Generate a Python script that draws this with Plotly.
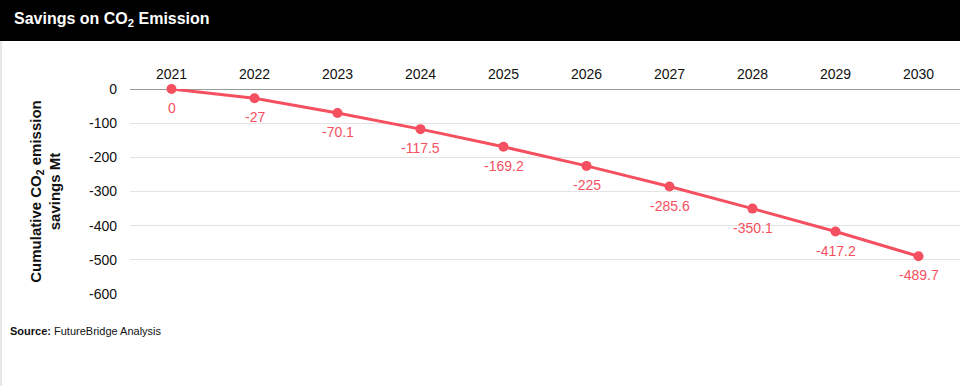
import plotly.graph_objects as go

years = ["2021", "2022", "2023", "2024", "2025", "2026", "2027", "2028", "2029", "2030"]
savings = [0, -27, -70.1, -117.5, -169.2, -225, -285.6, -350.1, -417.2, -489.7]
labels = ["0", "-27", "-70.1", "-117.5", "-169.2", "-225", "-285.6", "-350.1", "-417.2", "-489.7"]
yticks = [0, -100, -200, -300, -400, -500, -600]
ytick_labels = ["0", "-100", "-200", "-300", "-400", "-500", "-600"]

red = "#F4505F"
FONT = "Liberation Sans, Arial"
fig = go.Figure()
fig.add_trace(go.Scatter(
    x=years, y=savings, mode="lines+markers",
    line=dict(color=red, width=3),
    marker=dict(color=red, size=10),
    cliponaxis=False, hoverinfo="skip",
))

# on a category axis, annotation x is the category index
annots = [
    dict(x=i, y=y, text=t, xref="x", yref="y", showarrow=False, yshift=-19,
         xanchor="center", yanchor="middle",
         font=dict(color=red, size=14, family=FONT))
    for i, (y, t) in enumerate(zip(savings, labels))
]
annots += [
    dict(text="<b>Savings on CO<sub>2</sub> Emission</b>", xref="paper", yref="paper",
         x=-118/830, y=1 + 69/205, xanchor="left", yanchor="middle", showarrow=False,
         font=dict(color="white", size=16, family=FONT)),
    dict(text="<b>Source:</b> FutureBridge Analysis", xref="paper", yref="paper",
         x=-122/830, y=-(331 - 294) / 205, xanchor="left", yanchor="middle", showarrow=False,
         font=dict(color="#111", size=11, family=FONT)),
]

fig.update_layout(
    width=960, height=386,
    margin=dict(l=130, r=0, t=89, b=92),
    paper_bgcolor="white", plot_bgcolor="white",
    showlegend=False,
    font=dict(family=FONT, color="#222", size=14),
    xaxis=dict(side="top", type="category", range=[-0.5, len(years) - 0.5],
               showgrid=False, showline=False,
               ticks="", ticklabelstandoff=6, tickfont=dict(size=14, color="#111")),
    yaxis=dict(range=[-600, 0], tickvals=yticks, ticktext=ytick_labels,
               showgrid=True, gridcolor="#e3e3e3",
               gridwidth=1, zeroline=True, zerolinecolor="#9a9a9a", zerolinewidth=1,
               ticks="", ticklabelstandoff=12, tickfont=dict(size=14, color="#111"),
               title=dict(text="<b>Cumulative CO<sub>2</sub> emission<br>savings Mt</b>",
                          font=dict(size=15, color="#111"), standoff=24)),
    shapes=[
        dict(type="rect", xref="paper", yref="paper", x0=-130/830, x1=1, y0=1 + 89/205, y1=1 + 48/205,
             fillcolor="black", line=dict(width=0), layer="above"),
        dict(type="line", xref="paper", yref="paper", x0=-129/830, x1=-129/830, y0=1 + 48/205, y1=-92/205,
             line=dict(color="#d0d0d0", width=1)),
    ],
    annotations=annots,
)
fig.write_html("out.html", config={"displayModeBar": False},
               post_script="document.body.style.margin='0';document.body.style.overflow='hidden';")
